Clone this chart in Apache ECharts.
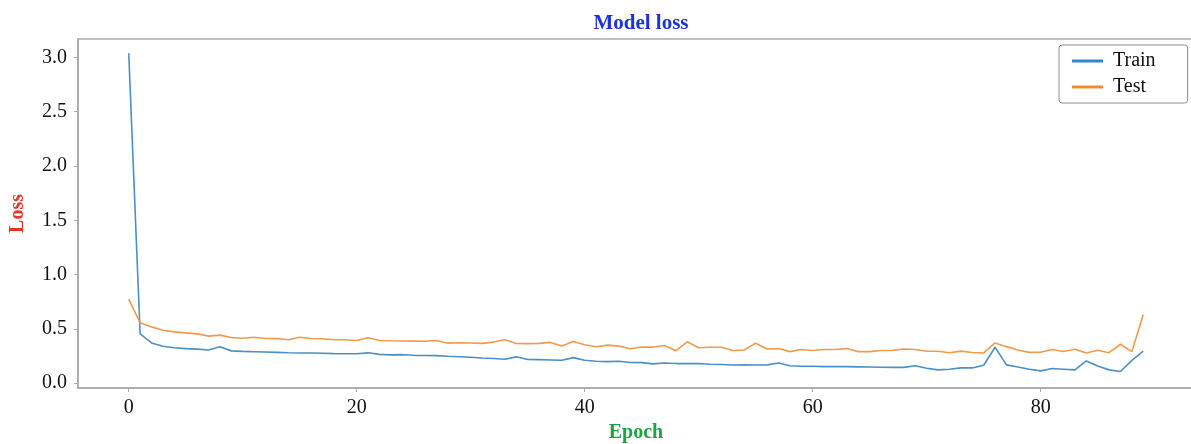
<!DOCTYPE html>
<html>
<head>
<meta charset="utf-8">
<script src="https://cdn.jsdelivr.net/npm/echarts@6/dist/echarts.min.js"></script>
<style>
html,body{margin:0;padding:0;background:#fff;}
#chart{width:1191px;height:444px;}
</style>
</head>
<body>
<div id="chart"></div>
<script>
const titleText = 'Model loss';
const xName = 'Epoch';
const yName = 'Loss';
const seriesNames = ['Train', 'Test'];
const xTicks = [0, 20, 40, 60, 80];
const yTicks = [0.0, 0.5, 1.0, 1.5, 2.0, 2.5, 3.0];

const trainLoss = [
  3.04, 0.454, 0.37, 0.34, 0.326, 0.318, 0.313, 0.305, 0.335, 0.297,
  0.292, 0.289, 0.286, 0.283, 0.28, 0.278, 0.278, 0.275, 0.272, 0.27,
  0.27, 0.279, 0.265, 0.26, 0.262, 0.256, 0.255, 0.253, 0.247, 0.243,
  0.238, 0.232, 0.227, 0.22, 0.242, 0.218, 0.216, 0.213, 0.21, 0.235,
  0.21, 0.201, 0.198, 0.201, 0.19, 0.189, 0.177, 0.186, 0.18, 0.181,
  0.18, 0.174, 0.172, 0.167, 0.168, 0.167, 0.168, 0.186, 0.16, 0.155,
  0.155, 0.152, 0.153, 0.152, 0.15, 0.148, 0.146, 0.145, 0.145, 0.16,
  0.137, 0.122, 0.128, 0.14, 0.14, 0.165, 0.33, 0.168, 0.148, 0.128,
  0.113, 0.134, 0.128, 0.122, 0.204, 0.158, 0.122, 0.107, 0.21, 0.295
];
const testLoss = [
  0.774, 0.555, 0.518, 0.487, 0.472, 0.463, 0.454, 0.433, 0.442, 0.42,
  0.414, 0.423, 0.411, 0.41, 0.40, 0.423, 0.411, 0.408, 0.40, 0.40,
  0.393, 0.418, 0.393, 0.39, 0.388, 0.387, 0.385, 0.393, 0.368, 0.372,
  0.37, 0.366, 0.378, 0.40, 0.365, 0.364, 0.366, 0.375, 0.341, 0.384,
  0.354, 0.335, 0.35, 0.341, 0.317, 0.332, 0.332, 0.347, 0.299, 0.381,
  0.326, 0.33, 0.33, 0.30, 0.305, 0.368, 0.314, 0.318, 0.29, 0.31,
  0.30, 0.31, 0.31, 0.318, 0.29, 0.29, 0.30, 0.302, 0.314, 0.31,
  0.294, 0.294, 0.28, 0.295, 0.282, 0.278, 0.37, 0.336, 0.305, 0.283,
  0.285, 0.309, 0.292, 0.312, 0.277, 0.302, 0.28, 0.358, 0.29, 0.632
];
const epochs = trainLoss.map((_, i) => i);

const FONT = '"Liberation Serif", "Times New Roman", serif';
const SPINE = '#a9a9a9';

const chart = echarts.init(document.getElementById('chart'), null, {renderer: 'canvas'});
chart.setOption({
  animation: false,
  backgroundColor: '#ffffff',
  title: {
    text: titleText,
    left: 636,
    top: 8,
    textAlign: 'center',
    textStyle: {fontFamily: FONT, fontSize: 21, fontWeight: 'bold', color: '#1b33d8'}
  },
  legend: {
    orient: 'vertical',
    left: 1059,
    top: 45,
    padding: [5, 32, 5, 13],
    itemGap: 4,
    itemWidth: 31,
    itemHeight: 3,
    icon: 'rect',
    borderColor: '#8c8c8c',
    borderWidth: 1,
    borderRadius: 3,
    backgroundColor: '#ffffff',
    textStyle: {fontFamily: FONT, fontSize: 20, color: '#111', lineHeight: 22, padding: [0, 0, 0, 5]},
    data: seriesNames
  },
  grid: {
    left: 78, top: 39, width: 1116, height: 349,
    show: true, borderColor: SPINE, borderWidth: 1.5,
    containLabel: false, outerBoundsMode: 'none'
  },
  xAxis: {
    type: 'value',
    min: -4.45,
    max: 93.45,
    name: xName,
    nameLocation: 'middle',
    nameGap: 34,
    nameTextStyle: {fontFamily: FONT, fontSize: 20, fontWeight: 'bold', color: '#1ea347'},
    axisLine: {show: true, onZero: false, lineStyle: {color: SPINE, width: 1.5}},
    axisTick: {show: true, length: 4, lineStyle: {color: SPINE}, customValues: xTicks},
    axisLabel: {customValues: xTicks, fontFamily: FONT, fontSize: 20, color: '#111', margin: 10,
      formatter: v => String(Math.round(v))},
    splitLine: {show: false}
  },
  yAxis: {
    type: 'value',
    min: -0.045,
    max: 3.17,
    name: yName,
    nameLocation: 'middle',
    nameGap: 50,
    nameTextStyle: {fontFamily: FONT, fontSize: 20, fontWeight: 'bold', color: '#e5352b'},
    axisLine: {show: true, onZero: false, lineStyle: {color: SPINE, width: 1.5}},
    axisTick: {show: true, length: 4, lineStyle: {color: SPINE}, customValues: yTicks},
    axisLabel: {customValues: yTicks, fontFamily: FONT, fontSize: 20, color: '#111', margin: 11,
      formatter: v => v.toFixed(1)},
    splitLine: {show: false}
  },
  series: [
    {
      name: seriesNames[0], type: 'line', symbol: 'none',
      data: epochs.map((e, i) => [e, trainLoss[i]]),
      itemStyle: {color: '#2f88cc'},
      lineStyle: {color: '#4a8fc6', width: 1.6}
    },
    {
      name: seriesNames[1], type: 'line', symbol: 'none',
      data: epochs.map((e, i) => [e, testLoss[i]]),
      itemStyle: {color: '#ea8a3a'},
      lineStyle: {color: '#f09a4c', width: 1.6}
    }
  ]
});
</script>
</body>
</html>
